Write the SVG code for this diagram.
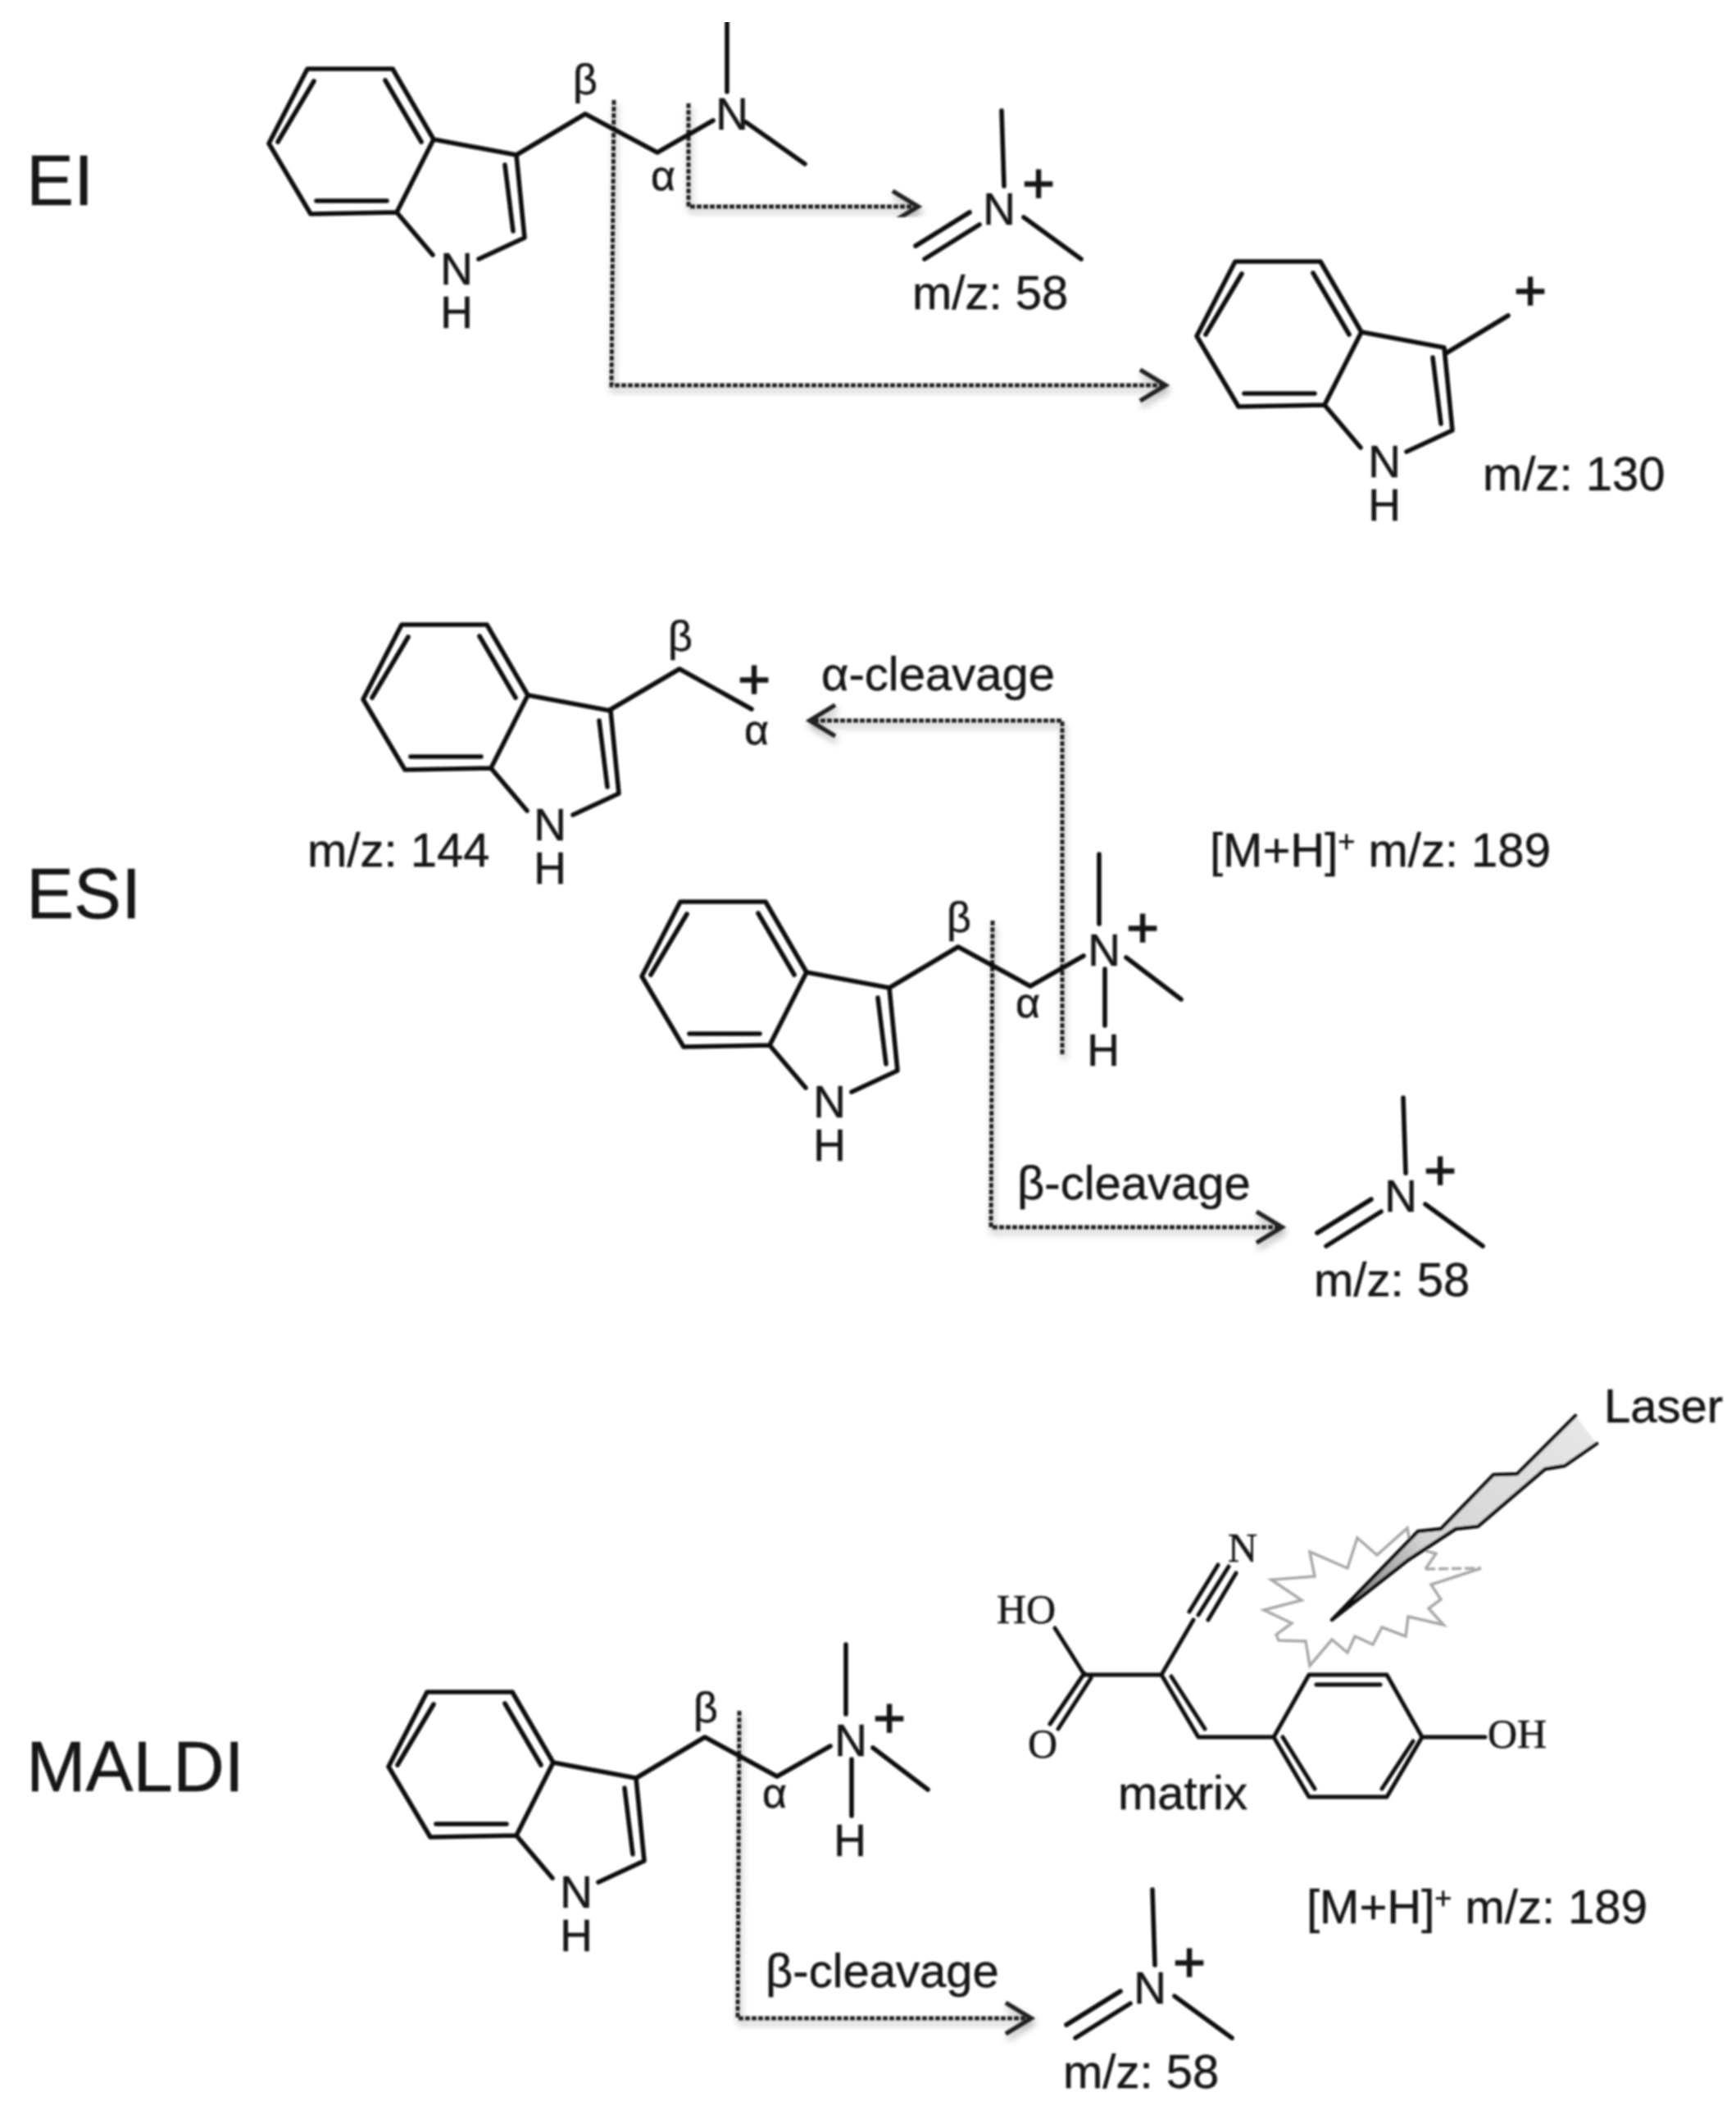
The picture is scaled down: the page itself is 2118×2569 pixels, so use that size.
<svg xmlns="http://www.w3.org/2000/svg" xmlns:xlink="http://www.w3.org/1999/xlink" width="2118" height="2569" viewBox="0 0 2118 2569">
<style>
text{font-family:"Liberation Sans",Arial,sans-serif;fill:#161616;stroke:#161616;stroke-width:0.5}
.big{font-size:87px}
.t{font-size:58px}
.a{font-size:55px;text-anchor:middle}
.g{font-size:52px;text-anchor:middle}
.p{font-size:68px;text-anchor:middle;stroke-width:1.6}
.s{font-family:"Liberation Serif","Times New Roman",serif;font-size:50px}
.b{fill:none;stroke:#0c0c0c;stroke-width:5.6;stroke-linecap:round;stroke-linejoin:round}
.c{fill:none;stroke:#222;stroke-width:5;stroke-dasharray:6 2}
</style>
<defs>
<filter id="soft" x="0" y="0" width="100%" height="100%"><feGaussianBlur stdDeviation="0.9"/></filter>
<filter id="shadow" x="-5%" y="-5%" width="110%" height="115%"><feDropShadow dx="2" dy="6" stdDeviation="4" flood-color="#000" flood-opacity="0.3"/></filter>
<linearGradient id="beam" gradientUnits="userSpaceOnUse" x1="1935" y1="1740" x2="1640" y2="1965"><stop offset="0" stop-color="#e6e6e6"/><stop offset="0.65" stop-color="#d4d4d4"/><stop offset="1" stop-color="#777"/></linearGradient>
<marker id="chev" markerUnits="userSpaceOnUse" markerWidth="44" markerHeight="50" viewBox="-38 -25 44 50" refX="0" refY="0" orient="auto"><path d="M-31,-19 L0,0 L-31,19" fill="none" stroke="#222" stroke-width="5.5"/></marker>
<path id="indole" class="b" d="M375,84 L479,84 L529,170 L484,259 L379,261 L328,175 Z M529,170 L630,189 L640,290 L584,316 M484,259 L528,311 M470,98 L514,173 M383,99 L339,173 M386,245 L472,245 M616,201 L626,282"/>
<path id="iminium" class="b" d="M1222,135 L1225,227 M1249,265 L1319,316 M1183,259 L1117,300 M1195,274 L1128,316"/>
</defs>
<rect width="2118" height="2569" fill="#fff"/>
<g filter="url(#soft)">
<g id="label-ei"><text class="big" x="32" y="250">EI</text></g>
<g id="label-esi"><text class="big" x="32" y="1120">ESI</text></g>
<g id="label-maldi"><text class="big" x="32" y="2185">MALDI</text></g>

<g id="connectors">
<path class="c" filter="url(#shadow)" d="M840,126 L840,252 L1120,252" marker-end="url(#chev)"/>
<path class="c" filter="url(#shadow)" d="M749,122 L746,470 L1422,470" marker-end="url(#chev)"/>
<path class="c" filter="url(#shadow)" d="M1296,1286 L1296,879 L988,879" marker-end="url(#chev)"/>
<path class="c" filter="url(#shadow)" d="M1211,1123 L1209,1497 L1564,1497" marker-end="url(#chev)"/>
<path class="c" filter="url(#shadow)" d="M902,2087 L900,2462 L1258,2462" marker-end="url(#chev)"/>
</g>

<g id="ei-molecule">
<use href="#indole"/>
<path class="b" d="M630,189 L714,139 L802,186 L870,147 M887,27 L887,112 M910,149 L982,200"/>
<text class="a" x="557" y="347">N</text><text class="a" x="557" y="400">H</text>
<text class="a" x="893" y="158">N</text>
<text class="g" x="714" y="115">β</text><text class="g" x="809" y="232">α</text>
</g>
<g id="ei-product-58">
<use href="#iminium"/>
<text class="a" x="1219" y="274">N</text><text class="p" x="1267" y="247">+</text>
<text class="t" x="1113" y="377">m/z: 58</text>
</g>
<g id="ei-product-130" transform="translate(1132,235)">
<use href="#indole"/>
<path class="b" d="M632,196 L708,150"/>
<text class="a" x="557" y="347">N</text><text class="a" x="557" y="400">H</text>
<text class="p" x="735" y="143">+</text>
</g>
<g id="ei-mz130"><text class="t" x="1809" y="598">m/z: 130</text></g>

<g id="esi-fragment-144">
<use href="#indole" transform="translate(115,678)"/>
<path class="b" d="M744,866 L829,816 L917,865"/>
<text class="a" x="671" y="1025">N</text><text class="a" x="671" y="1078">H</text>
<text class="g" x="830" y="794">β</text><text class="g" x="923" y="908">α</text>
<text class="p" x="920" y="852">+</text>
<text class="t" x="375" y="1057">m/z: 144</text>
</g>
<g id="esi-label-alpha"><text class="t" x="1002" y="842">α-cleavage</text></g>
<g id="esi-mh"><text class="t" x="1476" y="1057">[M+H]<tspan font-size="36" dy="-18">+</tspan><tspan dy="18"> m/z: 189</tspan></text></g>
<g id="esi-molecule">
<use href="#indole" transform="translate(455,1016)"/>
<path class="b" d="M1085,1205 L1169,1155 L1257,1203 L1322,1166 M1341,1042 L1341,1127 M1348,1182 L1348,1251 M1374,1168 L1441,1219"/>
<text class="a" x="1012" y="1363">N</text><text class="a" x="1012" y="1416">H</text>
<text class="a" x="1347" y="1178">N</text><text class="a" x="1346" y="1300">H</text>
<text class="g" x="1170" y="1137">β</text><text class="g" x="1254" y="1241">α</text>
<text class="p" x="1394" y="1155">+</text>
</g>
<g id="esi-label-beta"><text class="t" x="1241" y="1463">β-cleavage</text></g>
<g id="esi-product-58" transform="translate(490,1204)">
<use href="#iminium"/>
<text class="a" x="1219" y="274">N</text><text class="p" x="1267" y="247">+</text>
<text class="t" x="1113" y="377">m/z: 58</text>
</g>

<g id="maldi-molecule" transform="translate(-309,964)">
<use href="#indole" transform="translate(455,1016)"/>
<path class="b" d="M1085,1205 L1169,1155 L1257,1203 L1322,1166 M1341,1042 L1341,1127 M1348,1182 L1348,1251 M1374,1168 L1441,1219"/>
<text class="a" x="1012" y="1363">N</text><text class="a" x="1012" y="1416">H</text>
<text class="a" x="1347" y="1178">N</text><text class="a" x="1346" y="1300">H</text>
<text class="g" x="1170" y="1137">β</text><text class="g" x="1254" y="1241">α</text>
<text class="p" x="1394" y="1155">+</text>
</g>
<g id="maldi-label-beta"><text class="t" x="934" y="2424">β-cleavage</text></g>
<g id="maldi-product-58" transform="translate(184,2170)">
<use href="#iminium"/>
<text class="a" x="1219" y="274">N</text><text class="p" x="1267" y="247">+</text>
<text class="t" x="1113" y="377">m/z: 58</text>
</g>
<g id="maldi-mh"><text class="t" x="1594" y="2346">[M+H]<tspan font-size="36" dy="-18">+</tspan><tspan dy="18"> m/z: 189</tspan></text></g>

<g id="burst" fill="none" stroke="#a8a8a8" stroke-width="3.5">
<path d="M1739,1914 L1752,1895 L1721,1887 L1717,1864 L1680,1897 L1656,1876 L1644,1913 L1598,1893 L1604,1923 L1551,1927 L1588,1952 L1542,1964 L1576,1980 L1557,1994 L1560,2001 L1593,2002 L1598,2032 L1625,2000 L1644,2016 L1653,1996 L1675,2006 L1686,1985 L1715,1996 L1718,1972 L1761,1982 L1743,1962 L1758,1951 L1746,1933 L1807,1913"/>
<path stroke-dasharray="12 4" d="M1739,1914 L1807,1913"/>
</g>
<g id="laser">
<path fill="url(#beam)" d="M1922,1727 L1857,1792 L1851,1798 L1822,1799 L1758,1865 L1730,1868 L1625,1976 L1718,1903 L1776,1865 L1803,1862 L1885,1792 L1909,1788 L1948,1761 Z"/>
<path class="b" style="stroke-width:4.5" d="M1922,1727 L1857,1792 L1851,1798 L1822,1799 L1758,1865 L1730,1868 L1625,1976 L1718,1903 L1776,1865 L1803,1862 L1885,1792 L1909,1788 L1948,1761"/>
<text class="t" x="1957" y="1735">Laser</text>
</g>
<g id="matrix">
<path class="b" style="stroke-width:5" d="M1287,1986 L1323,2043 L1417,2043 L1456,1976 M1323,2041 L1281,2103 M1331,2047 L1291,2109 M1451,1966 L1486,1909 M1462,1970 L1499,1911 M1474,1976 L1508,1919 M1417,2043 L1462,2119 L1554,2119 L1597,2043 L1692,2043 L1735,2119 L1692,2192 L1597,2192 L1554,2119 M1429,2045 L1470,2109 M1606,2055 L1684,2055 M1565,2119 L1604,2182 M1724,2124 L1686,2182 M1735,2119 L1812,2119"/>
<text class="s" x="1216" y="1980">HO</text>
<text class="s" x="1498" y="1905">N</text>
<text class="s" x="1254" y="2144">O</text>
<text class="s" x="1815" y="2132">OH</text>
<text class="t" x="1364" y="2207">matrix</text>
</g>
</g>
</svg>
